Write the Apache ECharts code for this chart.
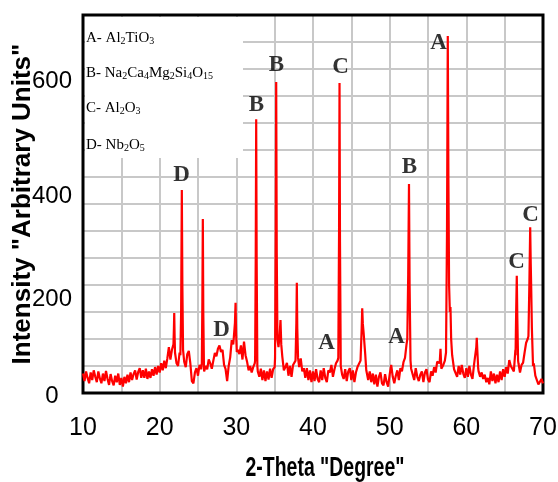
<!DOCTYPE html>
<html>
<head>
<meta charset="utf-8">
<script src="https://cdn.jsdelivr.net/npm/echarts@6/dist/echarts.min.js"></script>
<style>
  html, body { margin: 0; padding: 0; background: #fff; }
  #chart { width: 558px; height: 482px; }
</style>
</head>
<body>
<div id="chart"></div>
<script>
// 2-theta scan: baseline read every 0.2 degree from 10 to 70
var thetaStart = 10;
var thetaStep = 0.2;
var baseline = [
  36, 22, 40, 28, 18, 38, 24, 42, 30, 20,
  40, 27, 18, 36, 22, 41, 26, 15, 35, 22,
  14, 32, 20, 36, 15, 28, 12, 30, 18, 34,
  20, 38, 24, 35, 42, 25, 39, 46, 28, 42,
  28, 45, 26, 40, 28, 44, 32, 48, 34, 50,
  38, 55, 42, 60, 46, 64, 85, 62, 80, 90,
  75, 55, 50, 75, 90, 80, 58, 48, 72, 78,
  55, 22, 18, 38, 46, 32, 52, 44, 55, 40,
  50, 44, 62, 55, 45, 60, 74, 68, 82, 88,
  76, 80, 52, 44, 22, 50, 66, 98, 90, 120,
  70, 80, 72, 88, 62, 95, 70, 58, 42, 50,
  38, 48, 55, 60, 40, 30, 45, 24, 42, 22,
  40, 25, 45, 28, 44, 48, 60, 90, 100, 95,
  67, 42, 48, 56, 32, 50, 30, 52, 55, 70,
  62, 48, 64, 40, 46, 28, 46, 24, 42, 20,
  40, 22, 44, 26, 20, 42, 24, 46, 28, 20,
  42, 38, 52, 30, 44, 55, 60, 70, 50, 34,
  26, 44, 22, 40, 46, 24, 42, 20, 38, 48,
  50, 60, 100, 110, 70, 42, 24, 40, 20, 36,
  16, 34, 12, 30, 38, 18, 14, 35, 20, 12,
  34, 52, 30, 18, 32, 42, 24, 46, 40, 57,
  65, 90, 150, 200, 45, 42, 24, 46, 30, 22,
  34, 40, 20, 38, 44, 25, 20, 40, 32, 48,
  38, 58, 60, 80, 45, 52, 60, 75, 300, 150,
  100, 65, 44, 46, 30, 50, 34, 52, 36, 28,
  46, 30, 50, 34, 26, 52, 50, 70, 40, 30,
  38, 26, 34, 20, 28, 16, 40, 22, 36, 18,
  34, 20, 40, 24, 44, 30, 48, 36, 61, 50,
  52, 40, 80, 200, 55, 38, 52, 56, 75, 93,
  100, 190, 250, 120, 55, 32, 24, 16, 14, 26,
  18
];

// sharp reflections, [2theta, intensity]
var peaks = [
  [[21.8, 90], [21.86, 120], [21.9, 148], [21.95, 105], [22.0, 75]],
  [[22.7, 70], [22.8, 150], [22.89, 376], [22.96, 200], [23.05, 80]],
  [[25.5, 55], [25.57, 170], [25.63, 322], [25.69, 150], [25.78, 45]],
  [[29.7, 90], [29.82, 130], [29.9, 167], [29.97, 110], [30.06, 76]],
  [[32.45, 60], [32.53, 250], [32.59, 507], [32.65, 250], [32.74, 50]],
  [[35.05, 65], [35.14, 300], [35.2, 576], [35.27, 260], [35.36, 100], [35.5, 85], [35.66, 110], [35.76, 135], [35.86, 90]],
  [[37.72, 60], [37.83, 130], [37.89, 204], [37.95, 120], [38.05, 65]],
  [[43.3, 65], [43.4, 300], [43.46, 574], [43.52, 280], [43.62, 50]],
  [[46.25, 60], [46.35, 120], [46.42, 157], [46.5, 128], [46.6, 112], [46.72, 111], [46.82, 70], [46.95, 42]],
  [[52.3, 100], [52.42, 220], [52.52, 387], [52.6, 200], [52.72, 60]],
  [[56.52, 55], [56.63, 82], [56.74, 45]],
  [[57.35, 75], [57.48, 300], [57.58, 661], [57.66, 400], [57.75, 200], [57.85, 150], [57.93, 159], [58.02, 100], [58.15, 70]],
  [[61.22, 50], [61.3, 85], [61.36, 102], [61.43, 80], [61.55, 45]],
  [[66.42, 70], [66.5, 150], [66.58, 217], [66.65, 140], [66.75, 60]],
  [[68.1, 105], [68.22, 200], [68.33, 307], [68.4, 240], [68.46, 196], [68.55, 120], [68.7, 50]]
];

// phase letters over the peaks: [letter, 2theta, intensity]
var peakLabels = [
  ['D', 22.85, 404], ['D', 28.06, 117], ['B', 32.63, 533], ['B', 35.24, 607],
  ['C', 43.59, 604], ['A', 41.76, 93], ['A', 50.89, 104], ['B', 52.59, 419],
  ['A', 56.37, 648], ['C', 66.54, 243], ['C', 68.37, 330]
];

var xLabels = [10, 20, 30, 40, 50, 60, 70];
var yLabels = [0, 200, 400, 600];

var points = [];
baseline.forEach(function (v, i) {
  var x = +(thetaStart + i * thetaStep).toFixed(2);
  var covered = peaks.some(function (p) {
    return x >= p[0][0] && x <= p[p.length - 1][0];
  });
  if (!covered) points.push([x, v]);
});
peaks.forEach(function (p) {
  p.forEach(function (pt) { points.push(pt); });
});
points.sort(function (a, b) { return a[0] - b[0]; });

var sans = "'Liberation Sans', Arial, sans-serif";
var serif = "'Liberation Serif', 'Times New Roman', serif";
var gridGray = '#c8c8c8';

// the original y labels sit a little low against the grid; nudge each one down
function yTick(pad) {
  return { fontFamily: sans, fontSize: 24, color: '#000', padding: [pad, 0, 0, 0] };
}
var yTickRich = { t0: yTick(6), t200: yTick(28), t400: yTick(38), t600: yTick(24) };

var legendRich = {
  m: { fontFamily: serif, fontSize: 15, color: '#111' },
  s: { fontFamily: serif, fontSize: 10, color: '#111', verticalAlign: 'bottom', padding: [6, 0, 0, 0] }
};
var legendLines = [
  ['{m|A- Al}{s|2}{m|TiO}{s|3}', 38],
  ['{m|B- Na}{s|2}{m|Ca}{s|4}{m|Mg}{s|2}{m|Si}{s|4}{m|O}{s|15}', 73],
  ['{m|C- Al}{s|2}{m|O}{s|3}', 108],
  ['{m|D- Nb}{s|2}{m|O}{s|5}', 145]
];

var myChart = echarts.init(document.getElementById('chart'));

var graphics = [{
  type: 'rect',
  shape: { x: 85, y: 17, width: 158, height: 141 },
  style: { fill: '#fff' },
  z: 1,
  silent: true
}, {
  // x-axis title, narrow bold as in the original
  type: 'text',
  x: 325, y: 469,
  scaleX: 0.72,
  z: 10,
  style: {
    text: '2-Theta "Degree"',
    font: 'bold 27px ' + sans,
    fill: '#000', align: 'center', verticalAlign: 'middle'
  }
}];
legendLines.forEach(function (l) {
  graphics.push({
    type: 'text',
    x: 86, y: l[1],
    z: 10,
    style: { text: l[0], rich: legendRich, verticalAlign: 'middle', align: 'left' }
  });
});

var option = {
  animation: false,
  backgroundColor: '#fff',
  grid: {
    left: 83, top: 15, right: 15, bottom: 89,
    outerBoundsMode: 'none',
    show: true, borderColor: '#000', borderWidth: 3, backgroundColor: 'transparent', z: 3
  },
  xAxis: {
    type: 'value',
    min: 10, max: 70, interval: 5,
    axisLine: { show: false, onZero: false },
    axisTick: { show: false },
    axisLabel: {
      margin: 23,
      fontFamily: sans, fontSize: 25, color: '#000',
      formatter: function (v) { return xLabels.indexOf(v) >= 0 ? String(v) : ''; }
    },
    splitLine: { show: true, showMinLine: false, showMaxLine: false, lineStyle: { color: gridGray, width: 2 } }
  },
  yAxis: {
    type: 'value',
    min: 0, max: 700, interval: 50,
    name: 'Intensity "Arbitrary Units"',
    nameLocation: 'middle',
    nameGap: 47,
    nameMoveOverlap: false,
    nameTextStyle: { fontFamily: sans, fontWeight: 'bold', fontSize: 26, color: '#000' },
    axisLine: { show: false },
    axisTick: { show: false },
    axisLabel: {
      margin: 31, align: 'center',
      fontFamily: sans, fontSize: 24, color: '#000',
      rich: yTickRich,
      formatter: function (v) {
        return yLabels.indexOf(v) >= 0 ? '{t' + v + '|' + v + '}' : '';
      }
    },
    splitLine: { show: true, showMinLine: false, showMaxLine: false, lineStyle: { color: gridGray, width: 2 } }
  },
  series: [{
    type: 'line',
    data: points,
    showSymbol: false,
    lineStyle: { color: '#ff0000', width: 2.2 },
    z: 4
  }, {
    type: 'scatter',
    data: peakLabels.map(function (p) { return [p[1], p[2], p[0]]; }),
    symbolSize: 1,
    itemStyle: { color: 'rgba(0,0,0,0)' },
    silent: true,
    z: 5,
    label: {
      show: true,
      position: 'inside',
      formatter: function (p) { return p.data[2]; },
      fontFamily: serif, fontWeight: 'bold', fontSize: 23, color: '#000',
      textBorderWidth: 0
    }
  }],
  graphic: graphics
};

option && myChart.setOption(option);
</script>
</body>
</html>
